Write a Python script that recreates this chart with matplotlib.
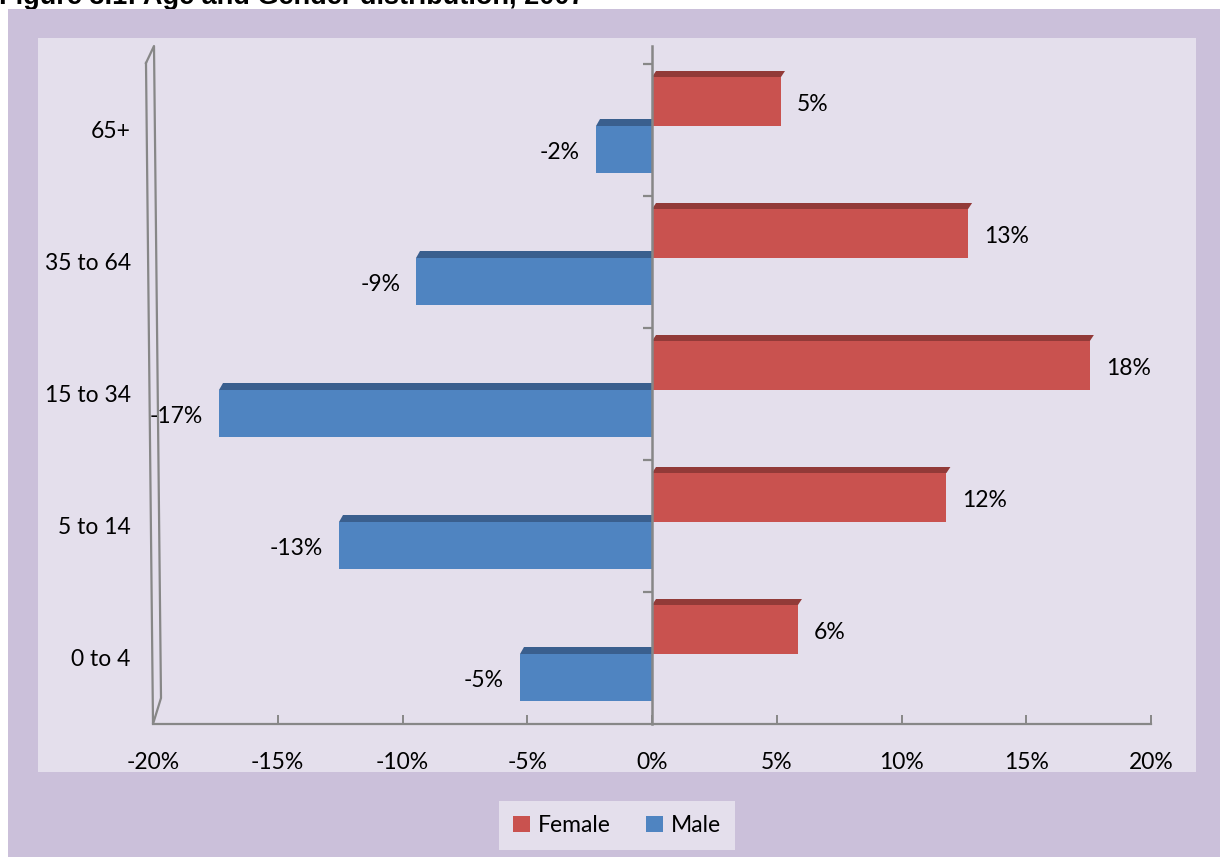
import matplotlib
matplotlib.use("Agg")
import matplotlib.pyplot as plt
from matplotlib.patches import Rectangle, Patch, Polygon

# ---- data ----
categories = ["0 to 4", "5 to 14", "15 to 34", "35 to 64", "65+"]
female = [5.85, 11.8, 17.55, 12.67, 5.17]
male = [-5.3, -12.55, -17.35, -9.45, -2.24]
female_labels = ["6%", "12%", "18%", "13%", "5%"]
male_labels = ["-5%", "-13%", "-17%", "-9%", "-2%"]
xticks = [-20, -15, -10, -5, 0, 5, 10, 15, 20]
xtick_labels = ["-20%", "-15%", "-10%", "-5%", "0%", "5%", "10%", "15%", "20%"]

# ---- style ----
W, H = 1220, 857
FONT = "Lato"
FS = 16.5
FRAME = "#CBC0DA"
INNER = "#E4DFEC"
RED = "#C9524F"
RED_TOP = "#923A38"
BLUE = "#4F84C1"
BLUE_TOP = "#3A5F8E"
GRAY = "#878787"

fig = plt.figure(figsize=(W / 100, H / 100), dpi=100, facecolor="white")

def fx(px):
    return px / W

def fy(py):
    return 1 - py / H

# title (cut off at top, as in the original)
fig.text(fx(-1), fy(4), "Figure 3.1: Age and Gender distribution, 2007",
         fontsize=19.5, fontweight="bold", family="Liberation Sans",
         ha="left", va="baseline", zorder=-3)

# frames
fig.add_artist(Rectangle((fx(8), 0), 1 - fx(8), fy(9), transform=fig.transFigure,
                         facecolor=FRAME, edgecolor="none", zorder=-2))
fig.add_artist(Rectangle((fx(38), fy(772)), fx(1196) - fx(38), fy(38) - fy(772),
                         transform=fig.transFigure, facecolor=INNER,
                         edgecolor="none", zorder=-1))

# axes
L, R, T, B = 153, 1151, 64, 724
ax = fig.add_axes([fx(L), fy(B), fx(R) - fx(L), fy(T) - fy(B)])
ax.set_facecolor("none")
ax.set_xlim(-20, 20)
ax.set_ylim(-0.5, len(categories) - 0.5)
for s in ["top", "right", "left"]:
    ax.spines[s].set_visible(False)
ax.spines["bottom"].set_color(GRAY)
ax.spines["bottom"].set_linewidth(1.6)

ax.set_xticks(xticks)
ax.set_xticklabels(xtick_labels, fontsize=FS, family=FONT)
ax.tick_params(axis="x", direction="in", length=6.5, width=1.4, color=GRAY, pad=20)
ax.set_yticks(range(len(categories)))
ax.set_yticklabels(categories, fontsize=FS, family=FONT)
ax.tick_params(axis="y", length=0, pad=16)

ppu = (B - T) / len(categories)  # pixels per category unit
xpu = (R - L) / 40.0             # pixels per percent

# 3D-ish wall outline (left)
def axpt(px, py):
    return ((px - L) / (R - L), (B - py) / (B - T))

wall = [(146, 63), (153, 724), (161, 698), (154, 46), (146, 63)]
wx, wy = zip(*[axpt(*p) for p in wall])
ax.plot(wx, wy, transform=ax.transAxes, color=GRAY, lw=1.6, clip_on=False, zorder=1)

# vertical axis at 0
ax.plot([0, 0], [-0.5, len(categories) - 0.5 + 18 / ppu], color=GRAY, lw=1.8,
        clip_on=False, zorder=4)
# ticks at category boundaries
bounds = [i + 0.5 for i in range(len(categories))]
ax.hlines(bounds, -9 / xpu, 0, color=GRAY, lw=1.6, zorder=4, clip_on=False)

# bars: front faces
f_lo, f_hi, f_top = 4 / ppu, 53 / ppu, 59 / ppu
m_lo, m_hi, m_top = -43 / ppu, 4 / ppu, 11 / ppu
dx = 4 / xpu
y = list(range(len(categories)))
ax.barh([i + (f_lo + f_hi) / 2 for i in y], female, height=f_hi - f_lo,
        color=RED, zorder=3)
ax.barh([i + (m_lo + m_hi) / 2 for i in y], male, height=m_hi - m_lo,
        color=BLUE, zorder=3)
# bars: top faces (slanted)
for i in y:
    v = female[i]
    ax.add_patch(Polygon([(0, i + f_hi), (v, i + f_hi), (v + dx, i + f_top),
                          (dx, i + f_top)], closed=True, facecolor=RED_TOP,
                         edgecolor="none", zorder=3))
    v = male[i]
    ax.add_patch(Polygon([(v, i + m_hi), (0, i + m_hi), (0, i + m_top),
                          (v + dx, i + m_top)], closed=True, facecolor=BLUE_TOP,
                         edgecolor="none", zorder=3))

off = 16 / xpu
lab_shift = -3 / ppu
for i in y:
    ax.text(female[i] + off, i + (f_lo + f_hi) / 2 + lab_shift, female_labels[i],
            fontsize=FS, family=FONT, ha="left", va="center", zorder=5)
    ax.text(male[i] - off, i + (m_lo + m_hi) / 2 + lab_shift, male_labels[i],
            fontsize=FS, family=FONT, ha="right", va="center", zorder=5)

# legend
handles = [Patch(facecolor=RED, edgecolor="none", label="Female"),
           Patch(facecolor=BLUE, edgecolor="none", label="Male")]
leg = fig.legend(handles=handles, ncol=2, loc="center",
                 bbox_to_anchor=(fx((501 + 733) / 2), fy(825.5)),
                 prop={"family": FONT, "size": FS}, frameon=True, fancybox=False,
                 facecolor=INNER, edgecolor="none", framealpha=1,
                 handlelength=0.75, handleheight=0.75, handletextpad=0.35,
                 columnspacing=1.5, borderpad=0.6)

fig.savefig("out.png", dpi=100, facecolor="white")
